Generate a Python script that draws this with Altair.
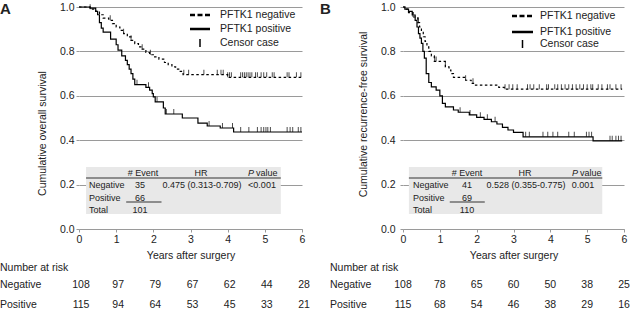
import altair as alt
import pandas as pd

FONT = "Liberation Sans"
TXT = "#222222"
GRID = "#9a9a9a"

# ---------------- data ----------------
years = [0, 1, 2, 3, 4, 5, 6]

# Panel A: overall survival (step-after curves)
a_neg_t = [0, 0.3, 0.45, 0.55, 0.65, 0.8, 0.9, 1.0, 1.1, 1.2, 1.3, 1.4, 1.5, 1.6, 1.7, 1.8, 1.9, 2.0, 2.15, 2.3,
           2.4, 2.5, 2.6, 2.7, 2.8, 4.0, 6.0]
a_neg_s = [1.0, 0.99, 0.98, 0.965, 0.95, 0.94, 0.925, 0.91, 0.895, 0.88, 0.865, 0.85, 0.835, 0.82, 0.81, 0.795,
           0.785, 0.775, 0.765, 0.75, 0.74, 0.73, 0.72, 0.71, 0.695, 0.683, 0.683]
a_pos_t = [0, 0.3, 0.45, 0.5, 0.55, 0.6, 0.65, 0.85, 1.0, 1.05, 1.15, 1.25, 1.3, 1.35, 1.4, 1.45, 1.5, 1.8, 1.9,
           1.97, 2.0, 2.05, 2.27, 2.32, 2.78, 3.2, 3.45, 3.8, 4.16, 6.0]
a_pos_s = [1.0, 0.995, 0.98, 0.965, 0.93, 0.905, 0.887, 0.855, 0.83, 0.806, 0.78, 0.76, 0.74, 0.72, 0.70, 0.675,
           0.65, 0.638, 0.626, 0.61, 0.595, 0.573, 0.545, 0.518, 0.50, 0.477, 0.464, 0.455, 0.437, 0.437]
a_neg_cens = [0.3, 0.84, 1.2, 1.4, 1.7, 1.92, 2.82, 2.95, 3.36, 3.72, 3.82, 3.88, 4.0, 4.05, 4.1, 4.35, 4.4, 4.45,
              4.5, 4.55, 4.6, 4.65, 4.75, 4.8, 4.9, 4.97, 5.05, 5.2, 5.25, 5.6, 5.65, 5.85, 5.97]
a_pos_cens = [1.56, 1.87, 2.1, 2.35, 2.55, 3.5, 3.86, 4.13, 4.35, 4.57, 4.8, 4.9, 4.97, 5.03, 5.08, 5.15, 5.6,
              5.68, 5.75, 5.9, 5.97]
a_risk_neg = [108, 97, 79, 67, 62, 44, 28]
a_risk_pos = [115, 94, 64, 53, 45, 33, 21]
a_stats = {"neg_events": "35", "pos_events": "66", "total": "101",
           "hr": "0.475 (0.313-0.709)", "p": "<0.001"}

# Panel B: recurrence-free survival
b_neg_t = [0, 0.05, 0.15, 0.27, 0.4, 0.45, 0.5, 0.55, 0.6, 0.65, 0.7, 0.77, 0.85, 1.15, 1.25, 1.3, 1.37, 1.7,
           1.85, 1.95, 2.6, 2.75, 5.95]
b_neg_s = [1.0, 0.99, 0.975, 0.955, 0.93, 0.91, 0.89, 0.866, 0.845, 0.82, 0.80, 0.78, 0.755, 0.73, 0.716, 0.70,
           0.683, 0.67, 0.656, 0.648, 0.638, 0.63, 0.63]
b_pos_t = [0, 0.05, 0.15, 0.25, 0.33, 0.38, 0.42, 0.46, 0.5, 0.54, 0.58, 0.63, 0.7, 0.77, 0.9, 1.0, 1.07, 1.15,
           1.37, 1.5, 1.8, 2.0, 2.2, 2.4, 2.55, 2.7, 2.85, 3.0, 3.26, 5.16, 5.95]
b_pos_s = [1.0, 0.99, 0.98, 0.964, 0.94, 0.91, 0.88, 0.86, 0.836, 0.80, 0.77, 0.70, 0.66, 0.64, 0.626, 0.60,
           0.566, 0.55, 0.536, 0.526, 0.514, 0.503, 0.494, 0.483, 0.473, 0.458, 0.446, 0.435, 0.415, 0.397, 0.397]
b_neg_cens = [0.27, 0.42, 0.86, 0.9, 1.15, 1.7, 1.9, 2.77, 2.88, 2.98, 3.1, 3.38, 3.45, 3.55, 3.7, 3.9, 3.95,
              4.12, 4.2, 4.3, 4.4, 4.5, 4.6, 4.7, 4.8, 4.9, 5.0, 5.1, 5.15, 5.3, 5.4, 5.55, 5.62, 5.78, 5.92]
b_pos_cens = [1.55, 1.82, 2.1, 2.29, 2.5, 3.33, 3.43, 3.8, 3.93, 4.07, 4.2, 4.5, 4.65, 4.98, 5.05, 5.12, 5.62,
              5.68, 5.78, 5.85, 5.92]
b_risk_neg = [108, 78, 65, 60, 50, 38, 25]
b_risk_pos = [115, 68, 54, 46, 38, 29, 16]
b_stats = {"neg_events": "41", "pos_events": "69", "total": "110",
           "hr": "0.528 (0.355-0.775)", "p": "0.001"}

ONE = pd.DataFrame({"k": [0]})


def step_at(ts, ss, t):
    v = ss[0]
    for ti, si in zip(ts, ss):
        if ti <= t:
            v = si
    return v


def txt(s, x, y, size=9, align="left", weight="normal", style="normal", baseline="middle"):
    return alt.Chart(ONE).mark_text(
        text=s, fontSize=size, align=align, baseline=baseline, fontWeight=weight,
        fontStyle=style, color=TXT, font=FONT
    ).encode(x=alt.value(x), y=alt.value(y))


def panel(letter, letter_x, ytitle, title_y, label_pad, width,
          neg_t, neg_s, pos_t, pos_s, neg_c, pos_c, stats, risk_neg, risk_pos,
          risk_dx, risk_lab_x, box_x, leg, num_x, p_x):
    H = 222
    xs = alt.Scale(domain=[0, 6], nice=False, zero=False)
    ys = alt.Scale(domain=[0, 1], nice=False, zero=False)
    xaxis = alt.Axis(values=years, format="d", grid=False, domainColor=GRID, tickColor=GRID,
                     tickSize=3, labelPadding=2, labelFontSize=10.5, labelColor=TXT,
                     title="Years after surgery", titleFontSize=10.5, titleFontWeight="normal",
                     titleColor=TXT, titlePadding=6, labelFlush=False)
    yaxis = alt.Axis(values=[0, 0.2, 0.4, 0.6, 0.8, 1.0], format=".1f", grid=True, gridColor=GRID,
                     domain=False, tickColor=GRID, tickSize=3, labelPadding=label_pad,
                     labelFontSize=10.5, labelColor=TXT, title=ytitle, titleFontSize=10.5,
                     titleFontWeight="normal", titleColor=TXT, titlePadding=12, titleY=title_y)

    def X(f):
        return alt.X(f, scale=xs, axis=xaxis)

    def Y(f):
        return alt.Y(f, scale=ys, axis=yaxis)

    box_df = pd.DataFrame({"x0": [box_x[0]], "x1": [box_x[1]], "y0": [0.068], "y1": [0.279]})
    box = alt.Chart(box_df).mark_rect(color="#e8e8e8").encode(
        x=X("x0:Q"), x2="x1", y=Y("y0:Q"), y2="y1")

    hline_df = pd.DataFrame({"x0": [box_x[0]], "x1": [box_x[1]], "y": [0.2297]})
    hline = alt.Chart(hline_df).mark_rule(color="#333333", strokeWidth=1).encode(
        x=X("x0:Q"), x2="x1", y=Y("y:Q"))
    uline_df = pd.DataFrame({"x0": [1.27], "x1": [2.22], "y": [0.1216]})
    uline = alt.Chart(uline_df).mark_rule(color="#333333", strokeWidth=1).encode(
        x=X("x0:Q"), x2="x1", y=Y("y:Q"))

    neg_df = pd.DataFrame({"t": neg_t, "s": neg_s})
    pos_df = pd.DataFrame({"t": pos_t, "s": pos_s})
    neg_line = alt.Chart(neg_df).mark_line(interpolate="step-after", color="black", strokeWidth=1.2,
                                           strokeDash=[2.5, 2.5]).encode(x=X("t:Q"), y=Y("s:Q"))
    pos_line = alt.Chart(pos_df).mark_line(interpolate="step-after", color="black",
                                           strokeWidth=1.2).encode(x=X("t:Q"), y=Y("s:Q"))

    cens_df = pd.DataFrame({
        "t": list(neg_c) + list(pos_c),
        "s": [step_at(neg_t, neg_s, t) for t in neg_c] + [step_at(pos_t, pos_s, t) for t in pos_c]})
    cens = alt.Chart(cens_df).mark_tick(orient="vertical", size=5, thickness=1, color="black",
                                        yOffset=-2.5).encode(x=X("t:Q"), y=Y("s:Q"))

    lx0, lx1, ltx, ly = leg
    legend = [
        alt.Chart(ONE).mark_rule(color="black", strokeWidth=2.5, strokeDash=[5, 2.5]).encode(
            x=alt.value(lx0), x2=alt.value(lx1), y=alt.value(ly[0])),
        alt.Chart(ONE).mark_rule(color="black", strokeWidth=2.5).encode(
            x=alt.value(lx0), x2=alt.value(lx1), y=alt.value(ly[1])),
        alt.Chart(ONE).mark_rule(color="black", strokeWidth=1.5).encode(
            x=alt.value((lx0 + lx1) / 2), y=alt.value(ly[2] - 4), y2=alt.value(ly[2] + 4)),
        txt("PFTK1 negative", ltx, ly[0], size=10.5),
        txt("PFTK1 positive", ltx, ly[1], size=10.5),
        txt("Censor case", ltx, ly[2], size=10.5),
    ]

    table = [
        txt("# Event", 64, 166, align="center"),
        txt("HR", 122, 166, align="center"),
        txt("P", 175, 166, align="right", style="italic"),
        txt("value", 177, 166, align="left"),
        txt("Negative", 10, 178),
        txt("Positive", 10, 191),
        txt("Total", 10, 203),
        txt(stats["neg_events"], num_x, 178, align="center"),
        txt(stats["pos_events"], num_x, 191, align="center"),
        txt(stats["total"], num_x, 203, align="center"),
        txt(stats["hr"], 123, 178, align="center"),
        txt(stats["p"], p_x, 178, align="center"),
    ]

    rn = pd.DataFrame({"t": years, "n": risk_neg})
    rp = pd.DataFrame({"t": years, "n": risk_pos})
    risk = [
        alt.Chart(rn).mark_text(fontSize=10.5, color=TXT, font=FONT, align="center", baseline="middle",
                                dx=risk_dx).encode(
            x=X("t:Q"), y=alt.value(278), text=alt.Text("n:Q", format="d")),
        alt.Chart(rp).mark_text(fontSize=10.5, color=TXT, font=FONT, align="center", baseline="middle",
                                dx=risk_dx).encode(
            x=X("t:Q"), y=alt.value(298), text=alt.Text("n:Q", format="d")),
        txt("Number at risk", risk_lab_x, 261, size=10.5),
        txt("Negative", risk_lab_x, 278, size=10.5),
        txt("Positive", risk_lab_x, 298, size=10.5),
    ]

    head = txt(letter, letter_x, 1.5, size=15, weight="bold")

    return alt.layer(box, hline, uline, neg_line, pos_line, cens, *legend, *table, *risk, head).properties(
        width=width, height=H)


chart_a = panel("A", -79, "Cumulative overall survival", 126, 2, 223,
                a_neg_t, a_neg_s, a_pos_t, a_pos_s, a_neg_cens, a_pos_cens, a_stats,
                a_risk_neg, a_risk_pos, 2, -79, (0.19, 5.43), (111, 131, 141, (8, 22, 36)), 61, 183)
chart_b = panel("B", -83, "Cumulative recurrence-free survival", 107, 5, 221,
                b_neg_t, b_neg_s, b_pos_t, b_pos_s, b_neg_cens, b_pos_cens, b_stats,
                b_risk_neg, b_risk_pos, 0, -73, (0.16, 5.41), (109, 130, 137, (9, 25, 37)), 64, 180)

chart = alt.hconcat(chart_a, chart_b, spacing=101, bounds="flush").properties(
    padding={"left": 0, "right": 0, "top": 1, "bottom": 0}
).configure(font=FONT).configure_view(stroke=None)

chart.save("out.html", embed_options={"renderer": "svg", "actions": False})
